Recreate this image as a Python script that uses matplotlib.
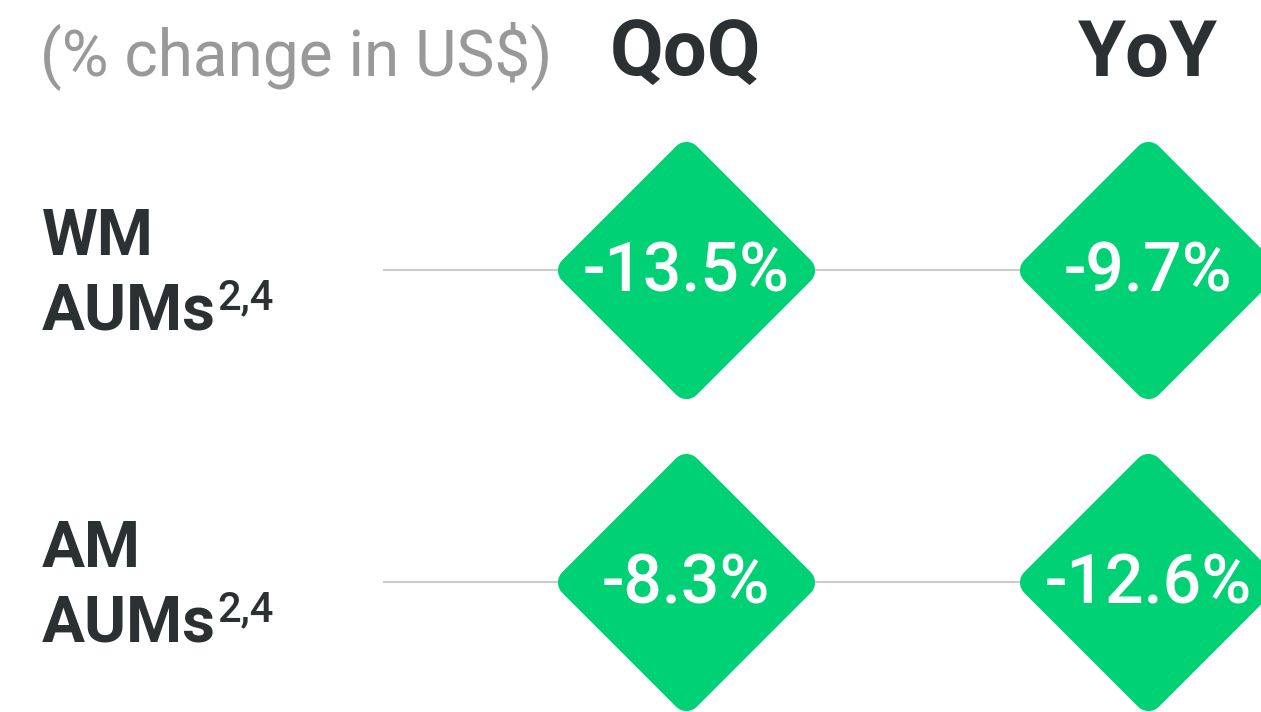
import numpy as np
import matplotlib.pyplot as plt
from matplotlib.markers import MarkerStyle

# data
rows = ['WM', 'AM']
row_sup = ['2,4', '2,4']
cols = ['QoQ', 'YoY']
qoq = [-13.5, -8.3]
yoy = [-9.7, -12.6]
subtitle = r'(% change in US\$)'

green = '#00d174'
dark = '#2b3133'
grey = '#999999'
line_grey = '#cccccc'

plt.rcParams['font.family'] = ['Roboto', 'DejaVu Sans']

fig = plt.figure(figsize=(12.61, 7.12), dpi=100)
ax = fig.add_axes([0, 0, 1, 1])
# one column = 462 px, one row = 312 px
ax.set_xlim(-686 / 462, 575 / 462)
ax.set_ylim(442 / 312, -270 / 312)
ax.axis('off')

values = np.array([qoq, yoy]).T  # rows x cols
diamond = MarkerStyle('D', joinstyle='round')
label_x = -644 / 462
line_x0 = -302 / 462

for r, name in enumerate(rows):
    ax.plot([line_x0, len(cols) - 1], [r, r], color=line_grey, lw=1.5, zorder=1)
    for c in range(len(cols)):
        ax.plot(c, r, marker=diamond, ms=116, mfc=green, mec=green, mew=21, zorder=2)
        ax.annotate(f'{values[r, c]:.1f}%', (c, r), xytext=(0, -21), textcoords='offset pixels',
                    ha='center', va='baseline', color='white', fontsize=49,
                    fontweight='medium', zorder=3)
    ax.annotate(name, (label_x, r), xytext=(0, 15), textcoords='offset pixels',
                ha='left', va='baseline', color=dark, fontsize=46, fontweight='bold')
    t = ax.annotate('AUMs', (label_x, r), xytext=(0, -60), textcoords='offset pixels',
                    ha='left', va='baseline', color=dark, fontsize=46, fontweight='bold')
    ax.annotate(row_sup[r], xy=(1, r), xycoords=(t, 'data'), xytext=(1, -39),
                textcoords='offset pixels', ha='left', va='baseline', color=dark,
                fontsize=30, fontweight='medium')

for c, name in enumerate(cols):
    ax.annotate(name, (c, 0), xytext=(0, 194), textcoords='offset pixels',
                ha='center', va='baseline', color=dark, fontsize=56, fontweight='bold')

ax.annotate(subtitle, (-646 / 462, 0), xytext=(0, 195), textcoords='offset pixels',
            ha='left', va='baseline', color=grey, fontsize=46, fontweight='normal')

fig.savefig('out.png', dpi=100)
